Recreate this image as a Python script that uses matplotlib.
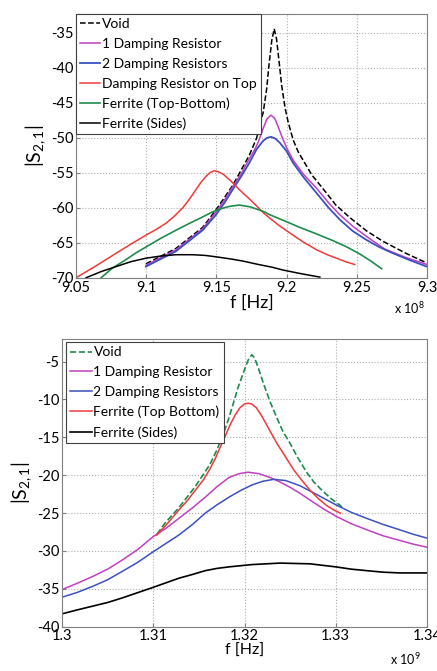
import numpy as np
import matplotlib.pyplot as plt

plt.rcParams['font.family'] = ['Lato', 'DejaVu Sans']
plt.rcParams['axes.unicode_minus'] = False
plt.rcParams['mathtext.fontset'] = 'custom'
plt.rcParams['mathtext.rm'] = 'Lato'
plt.rcParams['mathtext.it'] = 'Lato:italic'

# ---- top panel (f in units of 1e8 Hz) ----
top_void_f = [9.0998, 9.1212, 9.1402, 9.1497, 9.1616, 9.1734, 9.1787, 9.1834, 9.1858, 9.1875,
              9.1895, 9.1912, 9.1928, 9.1945, 9.1965, 9.1990, 9.2012, 9.2047, 9.2083, 9.2118,
              9.2180, 9.2261, 9.2351, 9.2451, 9.2570, 9.2688, 9.2850, 9.3]
top_void_s = [-68.0, -65.8, -62.8, -60.3, -56.8, -52.5, -50.0, -46.3, -43.0, -39.5,
              -36.0, -34.4, -35.8, -38.8, -42.5, -45.8, -47.8, -50.3, -52.0, -53.2,
              -55.3, -57.3, -59.6, -61.4, -63.3, -64.8, -66.5, -67.9]

top_r1_f = [9.0998, 9.1212, 9.1402, 9.1497, 9.1560, 9.1616, 9.1680, 9.1734, 9.1770, 9.1798,
            9.1834, 9.1860, 9.1889, 9.1915, 9.1940, 9.1970, 9.2000, 9.2047, 9.2120, 9.2214,
            9.2300, 9.2380, 9.2470, 9.2570, 9.2700, 9.2850, 9.3]
top_r1_s = [-68.2, -66.0, -63.0, -60.6, -58.8, -57.0, -55.0, -53.0, -51.8, -50.6,
            -48.6, -47.3, -46.75, -47.2, -48.4, -50.0, -51.4, -53.2, -55.2, -57.2,
            -59.3, -61.0, -62.6, -64.1, -65.9, -67.1, -68.1]

top_r2_f = [9.0998, 9.1212, 9.1402, 9.1497, 9.1560, 9.1616, 9.1680, 9.1734, 9.1787, 9.1834,
            9.1860, 9.1889, 9.1920, 9.1952, 9.2000, 9.2047, 9.2120, 9.2214, 9.2300, 9.2380,
            9.2470, 9.2570, 9.2660, 9.2759, 9.2880, 9.3]
top_r2_s = [-68.4, -66.2, -63.2, -61.0, -59.2, -57.4, -55.4, -53.6, -51.6, -50.4,
            -50.0, -49.85, -50.1, -50.7, -51.9, -53.6, -55.6, -57.9, -60.0, -61.7,
            -63.3, -64.6, -65.6, -66.5, -67.5, -68.4]

top_rtop_f = [9.050, 9.0642, 9.0785, 9.0890, 9.0998, 9.1070, 9.1141, 9.1200, 9.1260, 9.1310,
              9.1354, 9.1392, 9.1426, 9.1455, 9.1485, 9.1515, 9.1549, 9.1600, 9.1644, 9.1690,
              9.1739, 9.1790, 9.1834, 9.1882, 9.1952, 9.2024, 9.2120, 9.2214, 9.2290, 9.2356,
              9.2420, 9.2486]
top_rtop_s = [-70.0, -68.3, -66.5, -65.2, -63.9, -63.1, -62.2, -61.2, -60.0, -58.7,
              -57.4, -56.3, -55.5, -54.95, -54.7, -54.85, -55.2, -56.1, -57.0, -57.9,
              -58.8, -59.8, -60.7, -61.5, -62.6, -63.6, -64.9, -66.0, -66.7, -67.2,
              -67.7, -68.1]

top_ftb_f = [9.0678, 9.0760, 9.0856, 9.0930, 9.0998, 9.1100, 9.1212, 9.1300, 9.1402, 9.1460,
             9.1520, 9.1590, 9.1663, 9.1739, 9.1790, 9.1834, 9.1882, 9.1990, 9.2095, 9.2210,
             9.2332, 9.2430, 9.2522, 9.2600, 9.2677]
top_ftb_s = [-70.0, -68.6, -67.4, -66.4, -65.6, -64.4, -63.2, -62.3, -61.3, -60.7,
             -60.2, -59.8, -59.6, -59.85, -60.2, -60.5, -61.0, -61.9, -62.8, -63.7,
             -64.7, -65.6, -66.6, -67.6, -68.7]

top_fs_f = [9.0571, 9.0680, 9.0785, 9.0890, 9.0998, 9.1100, 9.1212, 9.1330, 9.1420, 9.1497,
            9.1600, 9.1687, 9.1800, 9.1900, 9.1976, 9.2100, 9.2237]
top_fs_s = [-70.0, -69.1, -68.4, -67.7, -67.2, -66.9, -66.7, -66.7, -66.8, -67.0,
            -67.3, -67.6, -68.1, -68.5, -68.9, -69.4, -69.9]

top_xticks = [9.05, 9.1, 9.15, 9.2, 9.25, 9.3]
top_xlabels = ['9.05', '9.1', '9.15', '9.2', '9.25', '9.3']
top_yticks = [-70, -65, -60, -55, -50, -45, -40, -35]

# ---- bottom panel (f in units of 1e9 Hz) ----
bot_void_f = [1.3104, 1.3113, 1.3128, 1.3146, 1.3162, 1.3170, 1.3177, 1.3183, 1.3188, 1.3193,
              1.3199, 1.3204, 1.3208, 1.3211, 1.3215, 1.3222, 1.3228, 1.3235, 1.3242, 1.3250,
              1.3258, 1.3268, 1.3276, 1.3285, 1.3295, 1.3305, 1.3308]
bot_void_s = [-27.8, -26.3, -24.3, -21.5, -18.6, -16.6, -14.5, -12.4, -10.4, -8.4,
              -6.4, -4.8, -4.1, -4.5, -5.8, -8.3, -10.3, -12.3, -14.2, -15.8,
              -17.6, -19.6, -20.9, -22.0, -23.1, -24.0, -24.4]

bot_r1_f = [1.300, 1.3016, 1.3033, 1.3050, 1.3066, 1.3083, 1.3100, 1.3114, 1.3128, 1.3143,
            1.3157, 1.3170, 1.3183, 1.3194, 1.3204, 1.3216, 1.3228, 1.3239, 1.3250, 1.3261,
            1.3272, 1.3286, 1.3300, 1.3317, 1.3334, 1.3352, 1.3370, 1.3385, 1.3400]
bot_r1_s = [-35.1, -34.3, -33.4, -32.4, -31.2, -29.8, -28.1, -27.0, -25.7, -24.3,
            -22.9, -21.5, -20.3, -19.8, -19.6, -19.8, -20.3, -20.9, -21.6, -22.4,
            -23.3, -24.4, -25.4, -26.4, -27.2, -28.0, -28.6, -29.1, -29.5]

bot_r2_f = [1.300, 1.3016, 1.3033, 1.3050, 1.3066, 1.3083, 1.3100, 1.3114, 1.3128, 1.3143,
            1.3157, 1.3170, 1.3183, 1.3196, 1.3208, 1.3220, 1.3232, 1.3245, 1.3261, 1.3280,
            1.3300, 1.3317, 1.3334, 1.3352, 1.3370, 1.3385, 1.3400]
bot_r2_s = [-36.1, -35.5, -34.7, -33.8, -32.7, -31.5, -30.1, -29.0, -27.9, -26.5,
            -25.0, -23.9, -22.9, -22.0, -21.3, -20.8, -20.55, -20.7, -21.4, -22.6,
            -23.9, -24.9, -25.7, -26.5, -27.2, -27.8, -28.3]

bot_ftb_f = [1.3104, 1.3116, 1.3128, 1.3137, 1.3146, 1.3155, 1.3162, 1.3168, 1.3173, 1.3179,
             1.3184, 1.3190, 1.3195, 1.3200, 1.3204, 1.3208, 1.3213, 1.3219, 1.3224, 1.3230,
             1.3236, 1.3243, 1.3254, 1.3263, 1.3272, 1.3281, 1.3290, 1.3298, 1.3305]
bot_ftb_s = [-27.9, -26.3, -24.6, -23.4, -22.0, -20.6, -19.2, -17.8, -16.4, -14.8,
             -13.4, -12.0, -11.1, -10.6, -10.5, -10.6, -11.1, -12.2, -13.3, -14.6,
             -15.9, -17.2, -19.3, -20.7, -22.0, -23.1, -24.0, -24.6, -25.0]

bot_fs_f = [1.300, 1.3016, 1.3033, 1.3050, 1.3066, 1.3083, 1.3100, 1.3114, 1.3128, 1.3143,
            1.3157, 1.3170, 1.3183, 1.3208, 1.3239, 1.3272, 1.3300, 1.3317, 1.3334, 1.3352,
            1.3370, 1.3400]
bot_fs_s = [-38.3, -37.8, -37.3, -36.8, -36.2, -35.5, -34.8, -34.2, -33.6, -33.1,
            -32.6, -32.3, -32.1, -31.8, -31.6, -31.7, -32.1, -32.4, -32.6, -32.8,
            -32.9, -32.9]

bot_xticks = [1.30, 1.31, 1.32, 1.33, 1.34]
bot_xlabels = ['1.3', '1.31', '1.32', '1.33', '1.34']
bot_yticks = [-40, -35, -30, -25, -20, -15, -10, -5]

MAG = '#c040c0'
BLUE = '#3c50c0'
RED = '#f03a3a'
GREEN = '#1f8c4c'
YLABEL = '|S$_{2,1}$|'


def style_axes(ax):
    ax.grid(True, linestyle=':', color='#b0b0b0', linewidth=0.8)
    for s in ax.spines.values():
        s.set_color('#808080')
    ax.tick_params(direction='in', length=3, color='#808080', labelsize=10.5, pad=2)


fig = plt.figure(figsize=(4.37, 6.71), dpi=100)

# top panel
ax1 = fig.add_axes([0.174, 0.586, 0.803, 0.393])
ax1.plot(top_void_f, top_void_s, color='black', linestyle='--', lw=1.1, label='Void')
ax1.plot(top_r1_f, top_r1_s, color=MAG, lw=1.1, label='1 Damping Resistor')
ax1.plot(top_r2_f, top_r2_s, color=BLUE, lw=1.3, label='2 Damping Resistors')
ax1.plot(top_rtop_f, top_rtop_s, color=RED, lw=1.1, label='Damping Resistor on Top')
ax1.plot(top_ftb_f, top_ftb_s, color=GREEN, lw=1.2, label='Ferrite (Top-Bottom)')
ax1.plot(top_fs_f, top_fs_s, color='black', lw=1.1, label='Ferrite (Sides)')
ax1.set_xlim(9.05, 9.3)
ax1.set_ylim(-70, -32.3)
ax1.set_xticks(top_xticks)
ax1.set_xticklabels(top_xlabels)
ax1.set_yticks(top_yticks)
style_axes(ax1)
ax1.set_xlabel('f [Hz]', fontsize=13, labelpad=0)
ax1.set_ylabel(YLABEL, fontsize=14, labelpad=2)
ax1.text(0.905, -0.085, 'x 10$^8$', transform=ax1.transAxes, fontsize=9, va='top')
leg1 = ax1.legend(loc='upper left', bbox_to_anchor=(0, 1), borderaxespad=0, fancybox=False,
                  edgecolor='#404040', framealpha=1, fontsize=10, handlelength=1.4,
                  handletextpad=0.2, labelspacing=0.56, borderpad=0.3)
leg1.get_frame().set_linewidth(0.8)

# bottom panel
ax2 = fig.add_axes([0.142, 0.066, 0.835, 0.429])
ax2.plot(bot_void_f, bot_void_s, color=GREEN, linestyle='--', lw=1.2, label='Void')
ax2.plot(bot_r1_f, bot_r1_s, color=MAG, lw=1.1, label='1 Damping Resistor')
ax2.plot(bot_r2_f, bot_r2_s, color=BLUE, lw=1.1, label='2 Damping Resistors')
ax2.plot(bot_ftb_f, bot_ftb_s, color=RED, lw=1.1, label='Ferrite (Top Bottom)')
ax2.plot(bot_fs_f, bot_fs_s, color='black', lw=1.2, label='Ferrite (Sides)')
ax2.set_xlim(1.30, 1.34)
ax2.set_ylim(-40, -2)
ax2.set_xticks(bot_xticks)
ax2.set_xticklabels(bot_xlabels)
ax2.set_yticks(bot_yticks)
style_axes(ax2)
ax2.set_xlabel('f [Hz]', fontsize=11.5, labelpad=0)
ax2.set_ylabel(YLABEL, fontsize=14, labelpad=2)
ax2.text(0.9, -0.085, 'x 10$^9$', transform=ax2.transAxes, fontsize=9, va='top')
leg2 = ax2.legend(loc='upper left', bbox_to_anchor=(0.01, 0.988), borderaxespad=0, fancybox=False,
                  edgecolor='#404040', framealpha=1, fontsize=10, handlelength=1.6,
                  handletextpad=0.1, labelspacing=0.56, borderpad=0.3)
leg2.get_frame().set_linewidth(0.8)

fig.savefig('out.png', dpi=100)
